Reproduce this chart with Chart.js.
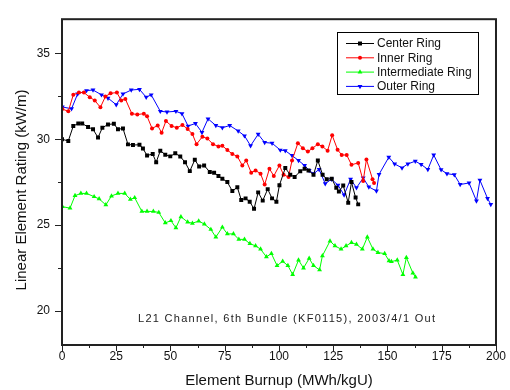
<!DOCTYPE html>
<html>
<head>
<meta charset="utf-8">
<script src="https://cdn.jsdelivr.net/npm/chart.js@4.4.1/dist/chart.umd.min.js"></script>
<style>
    html, body { margin: 0; padding: 0; background: #fff; }
    #wrap { width: 510px; height: 390px; }
</style>
</head>
<body>
<div id="wrap"><canvas id="burnupChart" width="510" height="390"></canvas></div>
<script>
// values
const centerX = [0, 2.9, 5.2, 7.5, 9.3, 12.0, 14.3, 16.6, 18.6, 21.2, 23.9, 25.8, 28.1, 30.4, 32.7, 35.7, 37.3, 39.2, 41.8, 43.4,
    45.3, 47.6, 49.9, 52.2, 54.5, 56.7, 58.9, 61.2, 63.2, 65.5, 68.1, 70.1, 72.1, 73.9, 76.2, 78.5, 80.8, 82.6, 84.6, 86.5,
    88.5, 90.4, 92.5, 94.8, 96.8, 98.8, 100.2, 102.9, 105.2, 107.2, 109.8, 111.8, 113.6, 115.9, 117.9, 120.1, 122.0, 124.3, 126.4, 127.6,
    129.6, 131.9, 133.4, 135.3, 136.5];
const centerY = [30.0, 29.9, 30.77, 30.92, 30.92, 30.71, 30.58, 30.1, 30.67, 30.86, 30.9, 30.58, 30.63, 29.7, 29.66, 29.68, 29.46, 29.05, 29.14, 28.66,
    29.33, 29.1, 29.0, 29.18, 28.99, 28.66, 28.14, 28.8, 28.41, 28.47, 28.09, 28.05, 27.86, 27.7, 27.5, 26.98, 27.2, 26.46, 26.55, 26.36,
    25.94, 26.9, 26.42, 27.09, 26.55, 26.36, 27.32, 28.32, 27.93, 27.8, 28.13, 28.28, 28.18, 27.93, 28.76, 27.93, 27.67, 27.7, 27.17, 26.95,
    27.3, 26.3, 27.5, 26.6, 26.2];

const innerX = [0.15, 2.9, 5.2, 7.8, 10.1, 12.8, 15.1, 17.7, 20.0, 22.4, 25.3, 27.3, 29.2, 32.2, 34.7, 37.7, 39.2, 41.5, 44.1, 45.9,
    47.9, 50.5, 52.9, 55.5, 57.9, 60.1, 62.0, 64.7, 67.0, 69.6, 72.1, 73.9, 76.2, 78.5, 80.8, 83.1, 84.9, 87.2, 89.2, 91.5,
    93.4, 95.6, 97.6, 100.2, 102.1, 104.4, 106.0, 108.7, 111.0, 113.3, 115.4, 117.9, 120.0, 122.4, 124.5, 127.0, 128.9, 131.2, 133.4, 136.5,
    138.8, 140.3, 143.1, 143.8];
const innerY = [31.76, 31.63, 32.59, 32.72, 32.72, 32.45, 32.26, 31.86, 32.49, 32.68, 32.72, 32.26, 32.34, 31.49, 31.44, 31.49, 31.34, 30.63, 30.8, 30.38,
    31.06, 30.77, 30.67, 30.83, 30.6, 30.3, 29.71, 30.15, 30.04, 29.71, 29.58, 29.62, 29.37, 29.14, 29.0, 28.47, 28.76, 28.05, 28.18, 27.99,
    27.36, 28.28, 27.86, 28.47, 27.93, 27.8, 28.76, 29.77, 29.47, 29.28, 29.47, 29.71, 29.58, 29.33, 30.23, 29.39, 29.08, 29.08, 28.51, 28.62,
    27.57, 28.82, 27.67, 27.45];

const interX = [0.15, 3.7, 6.0, 8.7, 11.3, 14.8, 17.1, 20.2, 22.8, 25.8, 28.9, 31.5, 33.5, 36.8, 39.2, 42.1, 44.6, 47.6, 50.2, 52.5,
    54.8, 57.9, 60.1, 63.0, 65.6, 68.6, 70.9, 73.9, 76.2, 79.0, 81.5, 84.1, 86.6, 89.2, 91.5, 94.2, 96.5, 99.1, 101.7, 104.1,
    106.3, 109.0, 111.3, 113.9, 115.9, 118.7, 120.0, 123.5, 125.8, 128.6, 130.9, 133.4, 135.7, 138.4, 140.7, 143.3, 145.6, 148.7, 150.7, 151.8,
    154.5, 157.1, 158.7, 161.7, 162.9];
const interY = [26.07, 25.98, 26.71, 26.84, 26.84, 26.65, 26.52, 26.17, 26.69, 26.84, 26.84, 26.49, 26.59, 25.79, 25.79, 25.79, 25.73, 25.12, 25.25, 24.83,
    25.48, 25.17, 25.1, 25.23, 25.05, 24.74, 24.29, 24.87, 24.48, 24.48, 24.16, 24.16, 23.91, 23.78, 23.59, 23.14, 23.33, 22.63, 22.88, 22.63,
    22.11, 22.95, 22.49, 23.05, 22.63, 22.38, 23.2, 24.06, 23.78, 23.59, 23.78, 23.97, 23.87, 23.59, 24.29, 23.59, 23.39, 23.33, 22.91, 22.86,
    22.95, 22.11, 23.1, 22.19, 21.96];

const outerX = [0.15, 4.4, 7.2, 11.3, 14.3, 18.2, 21.2, 25.0, 28.1, 31.9, 35.7, 38.8, 41.1, 45.3, 48.4, 52.5, 55.3, 58.1, 61.5, 64.5,
    67.3, 70.9, 73.9, 77.3, 81.2, 84.1, 86.9, 90.4, 93.4, 96.8, 100.6, 102.9, 106.0, 109.0, 111.8, 113.9, 115.9, 118.5, 121.3, 124.2,
    127.2, 130.0, 133.0, 135.7, 138.8, 141.4, 144.9, 146.1, 150.6, 153.3, 156.7, 159.4, 162.8, 165.5, 168.6, 171.3, 174.7, 177.4, 180.8, 183.5,
    187.6, 191.0, 192.6, 196.1, 197.6];
const outerY = [31.88, 31.78, 32.64, 32.84, 32.87, 32.59, 32.4, 32.01, 32.64, 32.87, 32.91, 32.45, 32.59, 31.63, 31.59, 31.63, 31.49, 30.77, 30.92, 30.4,
    31.19, 30.8, 30.67, 30.8, 30.48, 30.2, 29.62, 30.29, 29.81, 29.77, 29.37, 29.33, 29.05, 28.76, 28.47, 28.18, 27.99, 28.24, 27.41, 27.67,
    27.32, 26.75, 27.67, 27.17, 27.74, 27.22, 26.98, 27.95, 28.95, 28.56, 28.33, 28.56, 28.72, 28.53, 28.24, 29.08, 28.22, 27.99, 27.93, 27.36,
    27.45, 26.4, 27.61, 26.55, 26.2];

const seriesNames = ['Center Ring', 'Inner Ring', 'Intermediate Ring', 'Outer Ring'];
const xTicks = [0, 25, 50, 75, 100, 125, 150, 175, 200];
const yTicks = [20, 25, 30, 35];
const noteText = 'L21 Channel, 6th Bundle (KF0115), 2003/4/1 Out';

const FONT = '"Liberation Sans", Arial, sans-serif';

function toPoints(xs, ys) {
    return xs.map((x, i) => ({ x: x, y: ys[i] }));
}

function makeSet(label, xs, ys, color, style, radius, rotation) {
    return {
        label: label,
        data: toPoints(xs, ys),
        borderColor: color,
        backgroundColor: color,
        borderWidth: 1,
        pointStyle: style,
        pointRadius: radius,
        pointRotation: rotation || 0,
        pointBorderWidth: 0,
        tension: 0,
        fill: false
    };
}

// frame, minor/major ticks, legend box, note and y title
const decorations = {
    id: 'decorations',
    afterDraw(chart) {
        const ctx = chart.ctx;
        const area = chart.chartArea;
        const xs = chart.scales.x;
        const ys = chart.scales.y;
        ctx.save();

        ctx.strokeStyle = '#222';
        ctx.lineWidth = 1;
        ctx.beginPath();
        for (let v = 0; v <= 200; v += 12.5) {
            const px = Math.round(xs.getPixelForValue(v)) + 0.5;
            const len = v % 25 === 0 ? 6 : 3;
            ctx.moveTo(px, area.bottom);
            ctx.lineTo(px, area.bottom + len);
        }
        for (let v = 20; v <= 35; v += 2.5) {
            const py = Math.round(ys.getPixelForValue(v)) + 0.5;
            const len = v % 5 === 0 ? 7 : 4;
            ctx.moveTo(area.left, py);
            ctx.lineTo(area.left - len, py);
        }
        ctx.stroke();

        ctx.lineWidth = 2;
        ctx.strokeStyle = '#222';
        ctx.strokeRect(area.left, area.top, area.right - area.left, area.bottom - area.top);

        // legend
        ctx.lineWidth = 1;
        ctx.strokeStyle = '#000';
        ctx.strokeRect(337.5, 32.5, 141, 62);
        ctx.font = '12px ' + FONT;
        ctx.textBaseline = 'middle';
        chart.data.datasets.forEach((ds, i) => {
            const y = 43 + i * 14.3;
            ctx.strokeStyle = ds.borderColor;
            ctx.beginPath();
            ctx.moveTo(346, y + 0.5);
            ctx.lineTo(374, y + 0.5);
            ctx.stroke();
            ctx.fillStyle = ds.borderColor;
            Chart.helpers.drawPoint(ctx, {
                pointStyle: ds.pointStyle, radius: ds.pointRadius, rotation: ds.pointRotation, borderWidth: 0
            }, 360, y + 0.5);
            ctx.fillStyle = '#111';
            ctx.fillText(ds.label, 377, y + 1);
        });

        // note
        ctx.font = '11px ' + FONT;
        const w = ctx.measureText(noteText).width;
        const spacing = Math.max(0, (297 - w) / (noteText.length - 1));
        if ('letterSpacing' in ctx) ctx.letterSpacing = spacing.toFixed(2) + 'px';
        ctx.textAlign = 'left';
        ctx.fillStyle = '#222';
        ctx.fillText(noteText, 138, 319);
        if ('letterSpacing' in ctx) ctx.letterSpacing = '0px';

        // y title
        ctx.font = '15px ' + FONT;
        ctx.fillStyle = '#111';
        ctx.textAlign = 'center';
        ctx.translate(22, 190);
        ctx.rotate(-Math.PI / 2);
        ctx.fillText('Linear Element Rating (kW/m)', 0, 0);
        ctx.restore();
    }
};

const chart = new Chart(document.getElementById('burnupChart').getContext('2d'), {
    type: 'line',
    data: {
        datasets: [
            makeSet(seriesNames[0], centerX, centerY, '#000000', 'rect', 2.8),
            makeSet(seriesNames[1], innerX, innerY, '#ff0000', 'circle', 2),
            makeSet(seriesNames[2], interX, interY, '#00ff00', 'triangle', 2.8),
            makeSet(seriesNames[3], outerX, outerY, '#0000ff', 'triangle', 2.8, 180)
        ]
    },
    options: {
        responsive: false,
        animation: false,
        devicePixelRatio: 1,
        layout: { padding: { top: 15, right: 12, left: 0, bottom: 0 } },
        plugins: { legend: { display: false }, tooltip: { enabled: false } },
        scales: {
            x: {
                type: 'linear',
                min: 0,
                max: 200,
                afterBuildTicks: s => { s.ticks = xTicks.map(v => ({ value: v })); },
                afterFit: s => { s.height = 45; },
                grid: { display: false, drawTicks: false },
                border: { display: false },
                ticks: { color: '#111', font: { family: FONT, size: 12 }, padding: 4, maxRotation: 0, autoSkip: false },
                title: {
                    display: true, text: 'Element Burnup (MWh/kgU)', color: '#111',
                    font: { family: FONT, size: 15 }, padding: { top: 2, bottom: 0 }
                }
            },
            y: {
                type: 'linear',
                min: 18,
                max: 37,
                afterBuildTicks: s => { s.ticks = yTicks.map(v => ({ value: v })); },
                afterFit: s => { s.width = 62; },
                grid: { display: false, drawTicks: false },
                border: { display: false },
                ticks: { color: '#111', font: { family: FONT, size: 12 }, padding: 12 }
            }
        }
    },
    plugins: [decorations]
});
</script>
</body>
</html>
